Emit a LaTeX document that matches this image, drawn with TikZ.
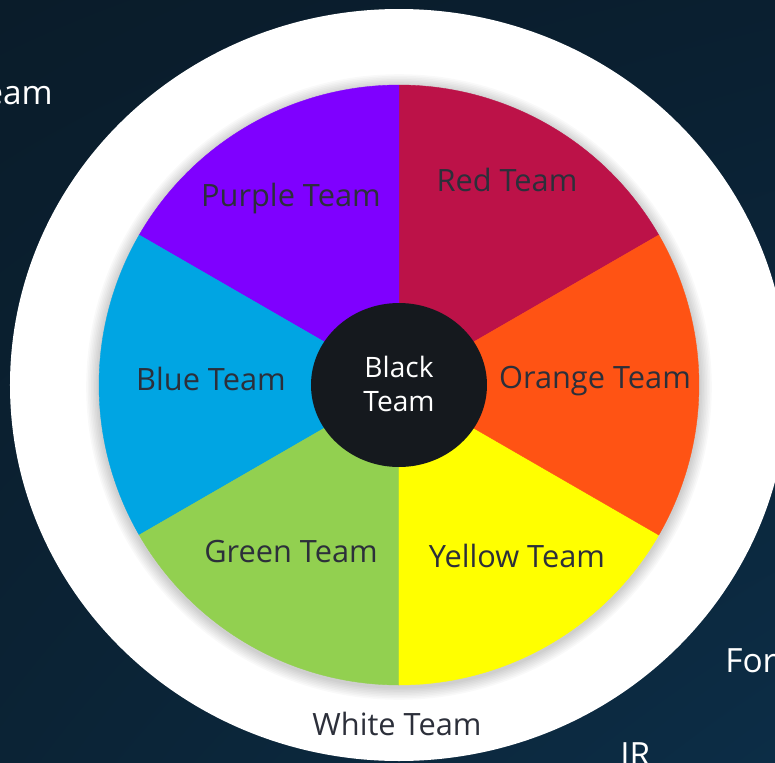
\documentclass[tikz,border=0pt]{standalone}
\usepackage{fontspec}
\setmainfont{Open Sans}
\usepackage{tikz}
\usetikzlibrary{positioning, shadings}

\definecolor{fondoA}{HTML}{0A1C2A}
\definecolor{fondoB}{HTML}{0A1F30}
\definecolor{fondoC}{HTML}{0B2335}
\definecolor{fondoD}{HTML}{0C2D46}
\definecolor{equipoRed}{HTML}{BC1248}
\definecolor{equipoOrange}{HTML}{FF5314}
\definecolor{equipoYellow}{HTML}{FFFF00}
\definecolor{equipoGreen}{HTML}{92D050}
\definecolor{equipoBlue}{HTML}{00A5E3}
\definecolor{equipoPurple}{HTML}{7F00FF}
\definecolor{equipoBlack}{HTML}{15191E}
\definecolor{texto}{HTML}{2C2F3A}

\begin{document}
\begin{tikzpicture}[x=0.02cm, y=0.02cm,
    etiqueta/.style={text=texto, font=\fontsize{17.5}{21}\selectfont, inner sep=0pt},
    borde/.style={text=white, font=\fontsize{19}{22}\selectfont, inner sep=0pt}]

    % Fondo
    \useasboundingbox (-399,-377) rectangle (376,385);
    \shade[upper left=fondoA, upper right=fondoB, lower left=fondoC, lower right=fondoD]
        (-399,-377) rectangle (376,385);

    % Textos cortados del borde
    \begin{scope}
        \clip (-399,-377) rectangle (376,385);
        \node[borde, anchor=base east] (izq) at (-346,281)  {Team};
        \node[borde, anchor=base west] (for) at (326,-287)  {For};
        \node[borde, anchor=north west, inner sep=0pt] (ir) at (221,-357) {IR};
    \end{scope}

    % Anillo blanco
    \fill[white] (0,0) ellipse[x radius=389, y radius=376];

    % Sombra de la rueda
    \foreach \r in {1,...,8}{
        \fill[black, opacity=0.022] (0,-2) circle[radius=300+1.6*\r];
    }

    % Sectores
    \foreach \ang/\col in {30/equipoRed, 90/equipoPurple, 150/equipoBlue,
                           210/equipoGreen, 270/equipoYellow, 330/equipoOrange}{
        \fill[\col, draw=\col, line width=0.2pt]
            (0,0) -- (\ang:300) arc[start angle=\ang, delta angle=60, radius=300]
            -- cycle;
    }

    % Centro
    \fill[equipoBlack] (0,0) ellipse[x radius=88, y radius=82];

    % Etiquetas
    \node[etiqueta] (red)    at (108,205)   {Red Team};
    \node[etiqueta] (purple) at (-108,186)  {Purple Team};
    \node[etiqueta] (blue)   at (-188,6)    {Blue Team};
    \node[etiqueta] (orange) at (196,4)     {Orange Team};
    \node[etiqueta] (green)  at (-108,-167) {Green Team};
    \node[etiqueta] (yellow) at (118,-171)  {Yellow Team};
    \node[etiqueta] (white)  at (-2,-339)   {White Team};
    \node[text=white, align=center, inner sep=0pt,
          font=\fontsize{16}{19.5}\selectfont] (black) at (0,1) {Black\\Team};
\end{tikzpicture}
\end{document}
